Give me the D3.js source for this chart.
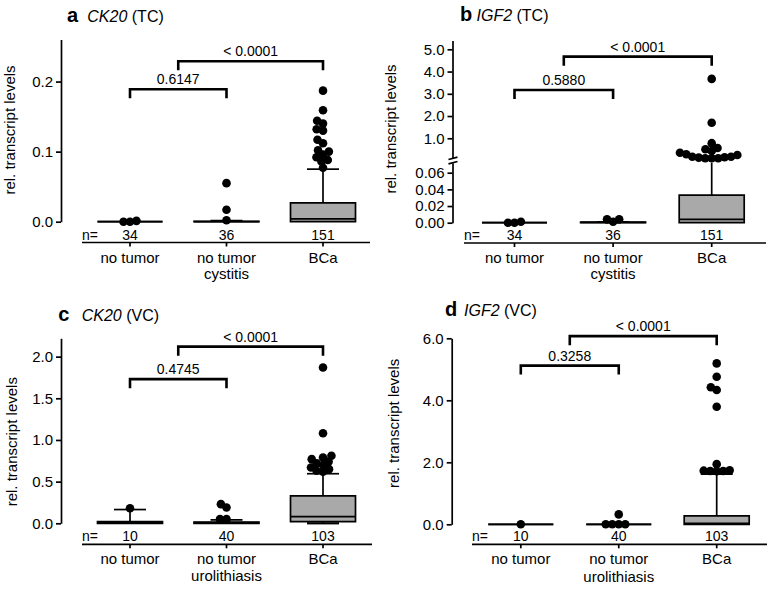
<!DOCTYPE html>
<html><head><meta charset="utf-8">
<script src="https://cdn.jsdelivr.net/npm/d3@7"></script>
<style>body{margin:0;background:#fff}</style>
</head><body><svg id="chart" width="767" height="591"></svg>
<script>
// ---------------- DATA ----------------
const catsTC = ["no tumor", "no tumor|cystitis", "BCa"];
const catsVC = ["no tumor", "no tumor|urolithiasis", "BCa"];
const countsTC = [34, 36, 151];
const countsVC = [10, 40, 103];

// box stats per group: [whiskerLow, q1, median, q3, whiskerHigh]
const boxA = [[0, 0, 0, 0, 0], [0, 0, 0, 0.0005, 0.0015], [0, 0, 0.004, 0.027, 0.075]];
const outA = [[0.0012, 0, 0], [0.055, 0.017, 0.002],
  [0.187, 0.159, 0.144, 0.140, 0.132, 0.130, 0.117, 0.112, 0.102, 0.100, 0.096, 0.092, 0.088, 0.086, 0.077]];
const boxB = [[0, 0, 0, 0, 0], [0, 0, 0.0003, 0.0008, 0.001], [0, 0, 0.004, 0.033, 0.078]];
const outB = [[0.0012, 0, 0], [0.004, 0.0012, 0.004],
  [3.67, 1.70, 0.78, 0.56, 0.51, 0.35, 0.25, 0.17, 0.13, 0.10, 0.10, 0.10, 0.15, 0.17, 0.28, 0.43]];
const boxC = [[0, 0, 0.01, 0.02, 0.165], [0, 0, 0.008, 0.015, 0.04], [0, 0.02, 0.08, 0.33, 0.595]];
const outC = [[0.18], [0.23, 0.19, 0.05, 0.05],
  [1.87, 1.08, 0.81, 0.79, 0.77, 0.74, 0.72, 0.70, 0.67, 0.65, 0.63, 0.62]];
const boxD = [[0, 0, 0, 0, 0], [0, 0, 0, 0, 0], [0, 0, 0.03, 0.27, 1.62]];
const outD = [[0], [0.32, 0, 0, 0, 0],
  [5.19, 4.76, 4.42, 4.33, 3.79, 1.94, 1.74, 1.73, 1.72, 1.72, 1.71]];

// significance brackets: from/to are category indices, y in data units
const pA = [{from: 0, to: 1, y: 0.189, label: "0.6147"}, {from: 0.5, to: 2, y: 0.229, label: "< 0.0001"}];
const pB = [{from: 0, to: 1, y: 3.17, label: "0.5880"}, {from: 0.5, to: 2, y: 4.67, label: "< 0.0001"}];
const pC = [{from: 0, to: 1, y: 1.73, label: "0.4745"}, {from: 0.5, to: 2, y: 2.12, label: "< 0.0001"}];
const pD = [{from: 0, to: 1, y: 5.12, label: "0.3258"}, {from: 0.5, to: 2, y: 6.07, label: "< 0.0001"}];

const ticksA = [0, 0.1, 0.2];
const ticksBUpper = [1, 2, 3, 4, 5];
const ticksBLower = [0, 0.02, 0.04, 0.06];
const ticksC = [0, 0.5, 1, 1.5, 2];
const ticksD = [0, 2, 4, 6];

// ---------------- DRAWING ----------------
const FONT = '"Liberation Sans", Arial, Helvetica, sans-serif';
const svg = d3.select("#chart").attr("font-family", FONT);
const BOXW = 65, CAPW = 32, R = 4.3, SWARM_D = 6.5, LW = 1.7;

// y scales
const yA = d3.scaleLinear().domain([0, 0.26]).range([221.7, 39.5]);
const yC = d3.scaleLinear().domain([0, 2.22]).range([523.3, 338.3]);
const yD = d3.scaleLinear().domain([0, 6]).range([524.3, 338.3]);
const bLow = d3.scaleLinear().domain([0, 0.072]).range([222.7, 162.7]);
const bUp = d3.scaleLinear().domain([0.1, 5.4]).range([158.3, 40.4]);
function yB(v) { return v <= 0.072 ? bLow(v) : (v < 0.1 ? bLow(0.072) : bUp(v)); }
yB.inGap = v => v > 0.072 && v < 0.1;

const panels = [
  {letter: "a", gene: "CK20", method: " (TC)", cats: catsTC, counts: countsTC, box: boxA, out: outA, p: pA,
   y: yA, axes: [{s: yA, t: ticksA, f: ".1f"}],
   axisX: 61, xr: [130, 323], nX: 82, lineEnd: 370, lineY: 242.5, countY: 239.8, catY: 263, catY2: 278.5,
   tX: 67, tY: 22, gX: 87.3, ytX: 15, ytY: 130},
  {letter: "b", gene: "IGF2", method: " (TC)", cats: catsTC, counts: countsTC, box: boxB, out: outB, p: pB,
   y: yB, axes: [{s: bUp, t: ticksBUpper, f: ".1f"}, {s: bLow, t: ticksBLower, f: ".2f"}], broken: true,
   axisX: 452.5, xr: [514.5, 711.7], nX: 464, lineEnd: 766, lineY: 243, countY: 240.3, catY: 263, catY2: 278.5,
   tX: 460, tY: 21, gX: 476.5, ytX: 396, ytY: 129},
  {letter: "c", gene: "CK20", method: " (VC)", cats: catsVC, counts: countsVC, box: boxC, out: outC, p: pC,
   y: yC, axes: [{s: yC, t: ticksC, f: ".1f"}],
   axisX: 61, xr: [130, 323], nX: 82, lineEnd: 372, lineY: 544.3, countY: 540.6, catY: 564.3, catY2: 581,
   tX: 58.3, tY: 321, gX: 81.7, ytX: 17, ytY: 441.7},
  {letter: "d", gene: "IGF2", method: " (VC)", cats: catsVC, counts: countsVC, box: boxD, out: outD, p: pD,
   y: yD, axes: [{s: yD, t: ticksD, f: ".1f"}],
   axisX: 451.7, xr: [520.8, 716.7], nX: 472, lineEnd: 767, lineY: 544.3, countY: 541, catY: 564.3, catY2: 581.5,
   tX: 445, tY: 316, gX: 464, ytX: 399, ytY: 423.3}
];

function swarm(vals, yfn) {
  const items = vals.map(v => ({v, y: yfn(v)})).sort((a, b) => a.v - b.v);
  const placed = [];
  const D = SWARM_D;
  for (const it of items) {
    const cands = [0];
    for (const p of placed) {
      const dy = Math.abs(p.y - it.y);
      if (dy < D) { const dx = Math.sqrt(D * D - dy * dy); cands.push(p.x - dx, p.x + dx); }
    }
    cands.sort((a, b) => (Math.abs(a) - Math.abs(b)) || (a - b));
    for (const c of cands) {
      if (placed.every(p => (p.x - c) ** 2 + (p.y - it.y) ** 2 >= D * D - 1e-3)) { it.x = c; break; }
    }
    placed.push(it);
  }
  return placed;
}

panels.forEach(P => {
  const g = svg.append("g");
  const x = d3.scalePoint().domain(d3.range(P.cats.length)).range(P.xr);
  const xf = i => P.xr[0] + (P.xr[1] - P.xr[0]) * i / (P.cats.length - 1);
  const y = P.y;

  // title
  const t = g.append("text").attr("y", P.tY).attr("fill", "#000");
  t.append("tspan").attr("x", P.tX).attr("font-weight", "bold").attr("font-size", 20).text(P.letter);
  t.append("tspan").attr("x", P.gX).attr("font-size", 16).attr("font-style", "italic").text(P.gene);
  t.append("tspan").attr("font-size", 16).text(P.method);

  // y axis title
  g.append("text").attr("transform", `translate(${P.ytX},${P.ytY}) rotate(-90)`)
    .attr("text-anchor", "middle").attr("font-size", 15).attr("fill", "#000").text("rel. transcript levels");

  // y axes
  P.axes.forEach(a => {
    const ax = d3.axisLeft(a.s).tickValues(a.t).tickFormat(d3.format(a.f)).tickSize(5).tickSizeOuter(0).tickPadding(3);
    const ag = g.append("g").attr("transform", `translate(${P.axisX},0)`).call(ax)
      .attr("font-size", 15).attr("font-family", FONT);
    ag.selectAll("path,line").attr("stroke", "#000").attr("stroke-width", LW);
    ag.selectAll("text").attr("fill", "#000");
  });
  if (P.broken) {
    [bUp.range()[0], bLow.range()[1]].forEach(yy => {
      g.append("line").attr("x1", P.axisX - 4).attr("x2", P.axisX + 5)
        .attr("y1", yy + 1.2).attr("y2", yy - 1.2).attr("stroke", "#000").attr("stroke-width", LW);
    });
  }

  // x axis line with n counts
  g.append("line").attr("x1", P.nX).attr("x2", P.lineEnd).attr("y1", P.lineY).attr("y2", P.lineY)
    .attr("stroke", "#000").attr("stroke-width", LW);
  P.cats.forEach((c, i) => {
    g.append("line").attr("x1", x(i)).attr("x2", x(i)).attr("y1", P.lineY).attr("y2", P.lineY + 4)
      .attr("stroke", "#000").attr("stroke-width", LW);
  });
  g.append("text").attr("x", P.nX).attr("y", P.countY).attr("font-size", 14).attr("fill", "#000").text("n=");
  g.selectAll(".cnt").data(P.counts).enter().append("text")
    .attr("x", (d, i) => x(i)).attr("y", P.countY).attr("text-anchor", "middle")
    .attr("font-size", 14).attr("fill", "#000").text(d => d);
  P.cats.forEach((c, i) => {
    c.split("|").forEach((ln, k) => {
      g.append("text").attr("x", x(i)).attr("y", k === 0 ? P.catY : P.catY2).attr("text-anchor", "middle")
        .attr("font-size", 15).attr("fill", "#000").text(ln);
    });
  });

  // boxes
  P.box.forEach((b, i) => {
    const cx = x(i);
    const [wl, q1, md, q3, wh] = b;
    const gap = y.inGap ? y.inGap : () => false;
    if (wh > q3) {
      g.append("line").attr("x1", cx).attr("x2", cx).attr("y1", y(q3)).attr("y2", y(wh))
        .attr("stroke", "#000").attr("stroke-width", LW);
      if (!gap(wh)) g.append("line").attr("x1", cx - CAPW / 2).attr("x2", cx + CAPW / 2)
        .attr("y1", y(wh)).attr("y2", y(wh)).attr("stroke", "#000").attr("stroke-width", LW);
    }
    if (wl < q1) {
      g.append("line").attr("x1", cx).attr("x2", cx).attr("y1", y(q1)).attr("y2", y(wl))
        .attr("stroke", "#000").attr("stroke-width", LW);
      g.append("line").attr("x1", cx - CAPW / 2).attr("x2", cx + CAPW / 2)
        .attr("y1", y(wl)).attr("y2", y(wl)).attr("stroke", "#000").attr("stroke-width", 2.2);
    }
    const x0 = cx - BOXW / 2, x1 = cx + BOXW / 2;
    g.append("path").attr("d", `M${x0},${y(q1)}H${x1}V${y(q3)}H${x0}Z`)
      .attr("fill", "#a9a9a9").attr("stroke", "#000").attr("stroke-width", LW);
    g.append("line").attr("x1", x0).attr("x2", x1).attr("y1", y(md)).attr("y2", y(md))
      .attr("stroke", "#000").attr("stroke-width", LW);
  });

  // outlier points (beeswarm)
  P.out.forEach((vals, i) => {
    const pts = swarm(vals, y);
    g.selectAll(null).data(pts).enter().append("circle")
      .attr("cx", d => x(i) + d.x).attr("cy", d => d.y).attr("r", R).attr("fill", "#000");
  });

  // brackets
  P.p.forEach(br => {
    const x0 = xf(br.from), x1 = xf(br.to), yy = y(br.y);
    g.append("path").attr("d", `M${x0},${yy + 9}V${yy}H${x1}V${yy + 9}`)
      .attr("fill", "none").attr("stroke", "#000").attr("stroke-width", 2.6);
    g.append("text").attr("x", (x0 + x1) / 2).attr("y", yy - 5).attr("text-anchor", "middle")
      .attr("font-size", 14).attr("fill", "#000").text(br.label);
  });
});
</script>
</body></html>
